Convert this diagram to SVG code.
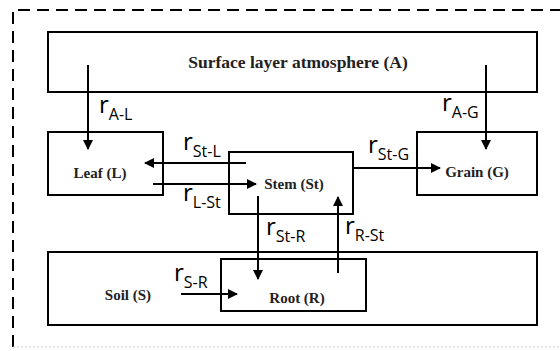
<svg xmlns="http://www.w3.org/2000/svg" width="560" height="351" viewBox="0 0 560 351">
<style>
.box{fill:#fff;stroke:#000;stroke-width:2}
.lbl{font-family:"Liberation Serif",serif;font-weight:bold;font-size:15px;fill:#222;text-anchor:middle}
.big{font-size:17.5px}
.r{font-family:"Open Sans","Liberation Sans",sans-serif;font-size:24px;fill:#000}
.sub{font-size:16px}
.c{stroke:#000;stroke-width:2;fill:none;marker-end:url(#ah)}
</style>
<defs>
<marker id="ah" viewBox="0 0 10 10" refX="9" refY="5" markerWidth="5.5" markerHeight="5" markerUnits="strokeWidth" orient="auto">
<path d="M0,0 L10,5 L0,10 z" fill="#000"/>
</marker>
</defs>
<rect width="560" height="351" fill="#fff"/>
<g id="frame">
<path d="M13,347 V10 H560" fill="none" stroke="#000" stroke-width="2" stroke-dasharray="12,7"/>
<path d="M13,347 H560" fill="none" stroke="#ccc" stroke-width="1" stroke-dasharray="2,2"/>
</g>
<g id="atmosphere">
<rect class="box" x="48" y="32" width="489" height="60"/>
<text class="lbl big" x="298" y="68">Surface layer atmosphere (A)</text>
</g>
<g id="soil">
<rect class="box" x="48" y="252" width="489" height="73"/>
<text class="lbl" x="128" y="300">Soil (S)</text>
</g>
<g id="leaf">
<rect class="box" x="48" y="132" width="115" height="63"/>
<text class="lbl" x="100" y="178">Leaf (L)</text>
</g>
<g id="stem">
<rect class="box" x="229" y="152" width="124" height="62"/>
<text class="lbl" x="294" y="189">Stem (St)</text>
</g>
<g id="grain">
<rect class="box" x="417" y="132" width="120" height="63"/>
<text class="lbl" x="477" y="177">Grain (G)</text>
</g>
<g id="root">
<rect class="box" x="221" y="259" width="145" height="52"/>
<text class="lbl" x="297" y="303">Root (R)</text>
</g>
<g id="connectors">
<line class="c" x1="88" y1="65" x2="88" y2="149"/>
<line class="c" x1="486" y1="65" x2="486" y2="149"/>
<line class="c" x1="246" y1="163" x2="145" y2="163"/>
<line class="c" x1="153" y1="184" x2="256" y2="184"/>
<line class="c" x1="353" y1="168" x2="440" y2="168"/>
<line class="c" x1="258" y1="196" x2="258" y2="279"/>
<line class="c" x1="338" y1="273" x2="338" y2="197"/>
<line class="c" x1="181" y1="294" x2="237" y2="294"/>
<text class="r" x="99" y="113">r<tspan class="sub" dy="7">A-L</tspan></text>
<text class="r" x="442" y="111">r<tspan class="sub" dy="7">A-G</tspan></text>
<text class="r" x="183" y="150">r<tspan class="sub" dy="7">St-L</tspan></text>
<text class="r" x="183" y="201">r<tspan class="sub" dy="7">L-St</tspan></text>
<text class="r" x="368" y="153">r<tspan class="sub" dy="7">St-G</tspan></text>
<text class="r" x="266" y="235">r<tspan class="sub" dy="7">St-R</tspan></text>
<text class="r" x="345" y="234">r<tspan class="sub" dy="7">R-St</tspan></text>
<text class="r" x="174" y="281">r<tspan class="sub" dy="7">S-R</tspan></text>
</g>
</svg>
